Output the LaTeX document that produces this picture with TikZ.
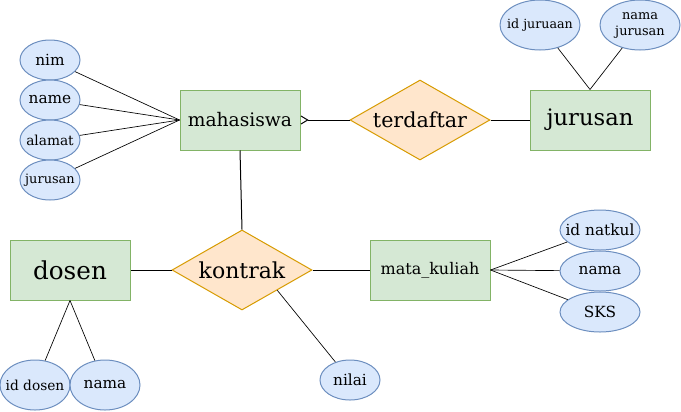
\documentclass[tikz,border=0pt]{standalone}
\usepackage{fontspec}
\setmainfont{DejaVu Serif}
\usetikzlibrary{shapes.geometric,arrows.meta}
\definecolor{entfill}{HTML}{D5E8D4}
\definecolor{entline}{HTML}{82B366}
\definecolor{relfill}{HTML}{FFE6CC}
\definecolor{relline}{HTML}{D79B00}
\definecolor{attfill}{HTML}{DAE8FC}
\definecolor{attline}{HTML}{6C8EBF}
\newcommand{\pxfont}[1]{\fontsize{#1}{#1}\selectfont}
\newcommand{\attrtext}[2]{\makebox[0pt]{\pxfont{#1}#2}}
\begin{document}
\begin{tikzpicture}[x=0.75pt,y=-0.75pt]
\tikzstyle{every node}+=[inner sep=0pt]
\tikzstyle{entity}=[draw=entline, fill=entfill, line width=0.75pt, minimum width=90pt, minimum height=45pt]
\tikzstyle{relation}=[diamond, aspect=1.75, draw=relline, fill=relfill, line width=0.75pt, minimum width=105pt, minimum height=60pt]
\tikzstyle{attr}=[ellipse, draw=attline, fill=attfill, line width=0.75pt, minimum width=45pt, minimum height=30pt]
\tikzstyle{link}=[black, line width=0.75pt]
\tikzstyle{alink}=[black, line width=0.5pt]
\useasboundingbox (0,0) rectangle (681,411);
% entities and relations
\node [entity] (mahasiswa) at (240,120) {\pxfont{14pt}mahasiswa};
\node [relation] (terdaftar) at (420,120) {\pxfont{15.5pt}terdaftar};
\node [entity] (jurusan) at (590,120) {\pxfont{17pt}jurusan};
\node [relation] (kontrak) at (242,270) {\pxfont{16.5pt}kontrak};
\node [entity] (dosen) at (70,270) {\pxfont{18.5pt}dosen};
\node [entity] (matakuliah) at (430,270) {\pxfont{12pt}mata\_kuliah};
% attributes
\node [attr] (nim) at (50,60) {\attrtext{11.5pt}{nim}};
\node [attr] (name) at (50,100) {\attrtext{11.5pt}{name}};
\node [attr] (alamat) at (50,140) {\attrtext{10.3pt}{alamat}};
\node [attr] (jurusanattr) at (50,180) {\attrtext{9.7pt}{jurusan}};
\node [attr, minimum width=60pt, minimum height=37.5pt] (idjurusan) at (540,25) {\attrtext{9.5pt}{id juruaan}};
\node [attr, minimum width=60pt, minimum height=37.5pt] (namajurusan) at (640,25) {\makebox[0pt]{\pxfont{9.7pt}\begin{tabular}{@{}c@{}}nama\\[2pt]jurusan\end{tabular}}};
\node [attr, minimum width=60pt] (idnatkul) at (600,230) {\attrtext{11.5pt}{id natkul}};
\node [attr, minimum width=60pt] (namamk) at (600,271) {\attrtext{11.5pt}{nama}};
\node [attr, minimum width=60pt] (sks) at (600,312) {\attrtext{11.5pt}{SKS}};
\node [attr, minimum width=52.5pt, minimum height=37.5pt] (iddosen) at (35,385) {\attrtext{10.3pt}{id dosen}};
\node [attr, minimum width=52.5pt, minimum height=37.5pt] (namadosen) at (105,385) {\attrtext{11.5pt}{nama}};
\node [attr] (nilai) at (350,380) {\attrtext{11.5pt}{nilai}};
% connectors
\draw [link, -{Straight Barb[reversed,length=5pt,width=6pt]}] (terdaftar.west) -- (mahasiswa.east);
\draw [link] (terdaftar.east) -- (jurusan.west);
\draw [link] (mahasiswa.south) -- (kontrak.north);
\draw [link] (kontrak.west) -- (dosen.east);
\draw [link] (kontrak.east) -- (matakuliah.west);
\draw [alink] (kontrak.south east) -- (nilai);
\foreach \a in {nim,name,alamat,jurusanattr}
  \draw [alink] (\a) -- (mahasiswa.west);
\foreach \a in {idjurusan,namajurusan}
  \draw [alink] (\a) -- (jurusan.north);
\foreach \a in {idnatkul,namamk,sks}
  \draw [alink] (matakuliah.east) -- (\a);
\foreach \a in {iddosen,namadosen}
  \draw [alink] (dosen.south) -- (\a);
\end{tikzpicture}
\end{document}
